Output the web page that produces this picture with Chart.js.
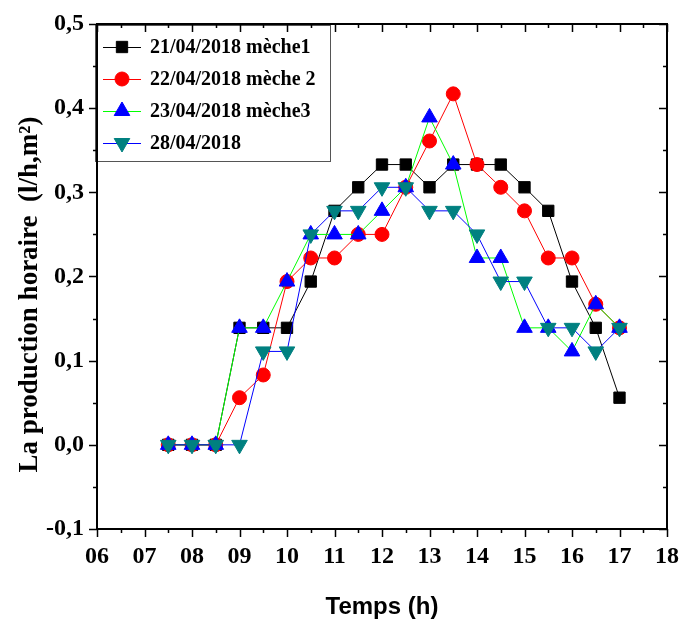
<!DOCTYPE html>
<html>
<head>
<meta charset="utf-8">
<script src="https://cdn.jsdelivr.net/npm/chart.js@4.4.1/dist/chart.umd.min.js"></script>
<style>
  html, body { margin: 0; padding: 0; background: #fff; }
  #wrap { width: 680px; height: 619px; }
</style>
</head>
<body>
<div id="wrap"><canvas id="graphe" width="680" height="619"></canvas></div>
<script>
// Production horaire mesurée, une série par journée d'essai.
const heures = [7.5, 8, 8.5, 9, 9.5, 10, 10.5, 11, 11.5, 12, 12.5, 13, 13.5, 14, 14.5, 15, 15.5, 16, 16.5, 17];

const noms = ['21/04/2018 mèche1', '22/04/2018 mèche 2', '23/04/2018 mèche3', '28/04/2018'];

const prod21 = [0, 0, 0, 0.139, 0.139, 0.139, 0.194, 0.278, 0.306, 0.333, 0.333, 0.306, 0.333, 0.333, 0.333, 0.306, 0.278, 0.194, 0.139, 0.056];
const prod22 = [0, 0, 0, 0.056, 0.083, 0.194, 0.222, 0.222, 0.25, 0.25, 0.306, 0.361, 0.417, 0.333, 0.306, 0.278, 0.222, 0.222, 0.167, 0.139];
const prod23 = [0, 0, 0, 0.139, 0.139, 0.194, 0.25, 0.25, 0.25, 0.278, 0.306, 0.389, 0.333, 0.222, 0.222, 0.139, 0.139, 0.111, 0.167, 0.139];
const prod28 = [0, 0, 0, 0, 0.111, 0.111, 0.25, 0.278, 0.278, 0.306, 0.306, 0.278, 0.278, 0.25, 0.194, 0.194, 0.139, 0.139, 0.111, 0.139];

const xMin = 6, xMax = 18;
const yMin = -0.1, yMax = 0.5;

const titreY = 'La production horaire  (l/h,m²)';
const titreX = 'Temps (h)';

const SERIF = '"Liberation Serif", "Times New Roman", serif';
const SANS = '"Liberation Sans", Arial, sans-serif';

function points(valeurs) {
  return heures.map((h, i) => ({ x: h, y: valeurs[i] }));
}

function serie(nom, valeurs, ligne, fond, style, rayon, rotation, ordre) {
  return {
    label: nom,
    data: points(valeurs),
    borderColor: ligne,
    borderWidth: 1,
    pointBackgroundColor: fond,
    pointBorderColor: fond,
    pointBorderWidth: 1,
    pointStyle: style,
    pointRadius: rayon,
    pointRotation: rotation,
    pointHoverRadius: rayon,
    order: ordre,
  };
}

// Cadre complet avec graduations majeures et mineures (bas/gauche vers l'extérieur, haut/droite vers l'intérieur).
const cadre = {
  id: 'cadre',
  afterDraw(chart) {
    const { ctx, chartArea: a, scales } = chart;
    const sx = scales.x, sy = scales.y;
    ctx.save();
    ctx.strokeStyle = '#000';
    ctx.lineWidth = 2;
    ctx.strokeRect(a.left, a.top, a.right - a.left, a.bottom - a.top);

    ctx.lineWidth = 1.5;
    ctx.beginPath();
    for (let i = 0; i <= (xMax - xMin) * 2; i++) {
      const px = Math.round(sx.getPixelForValue(xMin + i / 2)) + 0.5;
      const L = i % 2 === 0 ? 8 : 4;
      ctx.moveTo(px, a.bottom); ctx.lineTo(px, a.bottom + L);
      ctx.moveTo(px, a.top); ctx.lineTo(px, a.top + L);
    }
    for (let i = 0; i <= 12; i++) {
      const py = Math.round(sy.getPixelForValue(yMin + i * 0.05)) + 0.5;
      const L = i % 2 === 0 ? 8 : 4;
      ctx.moveTo(a.left, py); ctx.lineTo(a.left - L, py);
      ctx.moveTo(a.right, py); ctx.lineTo(a.right - L, py);
    }
    ctx.stroke();

    // Titre de l'axe vertical, un peu plus bas que le centre du cadre comme sur l'original.
    ctx.translate(30, (a.top + a.bottom) / 2 + 18);
    ctx.rotate(-Math.PI / 2);
    ctx.fillStyle = '#000';
    ctx.font = 'bold 27px ' + SERIF;
    ctx.textAlign = 'center';
    ctx.textBaseline = 'middle';
    ctx.fillText(titreY, 0, 0);
    ctx.restore();
  },
};

// Légende encadrée en haut à gauche, style ligne-symbole-ligne.
const legende = {
  id: 'legende',
  afterDatasetsDraw(chart) {
    const { ctx, chartArea: a } = chart;
    const x0 = a.left - 2, y0 = a.top + 1;
    const w = 235, h = 136;
    ctx.save();
    ctx.fillStyle = '#fff';
    ctx.fillRect(x0, y0, w, h);
    ctx.strokeStyle = '#555';
    ctx.lineWidth = 1;
    ctx.strokeRect(x0 + 0.5, y0 + 0.5, w, h);

    chart.data.datasets.forEach((ds, i) => {
      const cy = y0 + 22 + i * 32;
      ctx.strokeStyle = ds.borderColor;
      ctx.lineWidth = 1;
      ctx.beginPath();
      ctx.moveTo(x0 + 8, cy + 0.5);
      ctx.lineTo(x0 + 46, cy + 0.5);
      ctx.stroke();
      ctx.fillStyle = ds.pointBackgroundColor;
      ctx.strokeStyle = ds.pointBorderColor;
      Chart.helpers.drawPoint(ctx, {
        pointStyle: ds.pointStyle,
        radius: ds.pointRadius,
        rotation: ds.pointRotation,
        borderWidth: 1,
      }, x0 + 27, cy);
      ctx.fillStyle = '#000';
      ctx.font = 'bold 20px ' + SERIF;
      ctx.textBaseline = 'middle';
      ctx.textAlign = 'left';
      ctx.fillText(ds.label, x0 + 55, cy + 1);
    });
    ctx.restore();
  },
};

new Chart(document.getElementById('graphe'), {
  type: 'line',
  data: {
    datasets: [
      serie(noms[0], prod21, '#000000', '#000000', 'rect', 8, 0, 4),
      serie(noms[1], prod22, '#ff0000', '#ff0000', 'circle', 7, 0, 3),
      serie(noms[2], prod23, '#00ff00', '#0000ff', 'triangle', 9, 0, 2),
      serie(noms[3], prod28, '#0000ff', '#008080', 'triangle', 9, 180, 1),
    ],
  },
  options: {
    responsive: false,
    animation: false,
    events: [],
    layout: { padding: { top: 24, right: 13, left: 0, bottom: 0 } },
    plugins: {
      legend: { display: false },
      tooltip: { enabled: false },
    },
    scales: {
      x: {
        type: 'linear',
        min: xMin,
        max: xMax,
        afterFit(s) { s.height = 90; s.paddingLeft = 0; s.paddingRight = 0; },
        grid: { display: false, drawTicks: false },
        border: { display: false },
        ticks: {
          stepSize: 1,
          padding: 13,
          color: '#000',
          font: { family: SERIF, size: 24, weight: 'bold' },
          callback: (v) => String(v).padStart(2, '0'),
        },
        title: {
          display: true,
          text: titreX,
          color: '#000',
          font: { family: SANS, size: 24, weight: 'bold' },
          padding: { top: 0, bottom: -3 },
        },
      },
      y: {
        min: yMin,
        max: yMax,
        afterFit(s) { s.width = 97; s.paddingTop = 0; s.paddingBottom = 0; },
        grid: { display: false, drawTicks: false },
        border: { display: false },
        ticks: {
          stepSize: 0.1,
          padding: 13,
          color: '#000',
          font: { family: SERIF, size: 24, weight: 'bold' },
          callback: (v) => (Math.abs(v) < 1e-9 ? 0 : v).toFixed(1).replace('.', ','),
        },
        title: { display: false },
      },
    },
  },
  plugins: [legende, cadre],
});
</script>
</body>
</html>
